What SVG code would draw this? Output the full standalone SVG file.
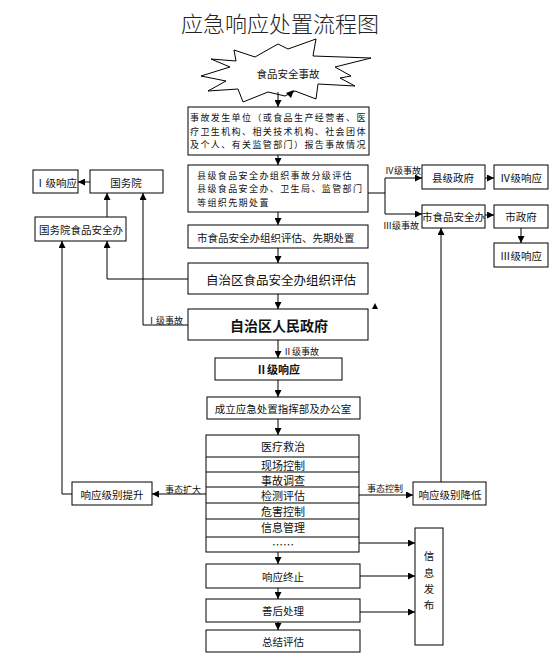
<svg xmlns="http://www.w3.org/2000/svg" width="560" height="663" viewBox="0 0 560 663">
<style>
.b{fill:#fff;stroke:#000;stroke-width:1}
.t{font-family:"Noto Sans CJK SC","Noto Sans",sans-serif;fill:#111;dominant-baseline:central}
.c{text-anchor:middle}
.s9{font-size:9px}
.sm{font-size:9px;letter-spacing:1.4px}
.s10{font-size:10.5px}
.s11{font-size:11px}
.s12{font-size:12.5px}
.ln{fill:none;stroke:#000;stroke-width:1}
</style>
<defs>
<marker id="ah" viewBox="0 0 8 8" refX="8" refY="4" markerWidth="7" markerHeight="7" markerUnits="userSpaceOnUse" orient="auto">
<path d="M0,0 L8,4 L0,8 Z" fill="#000"/>
</marker>
</defs>
<rect width="560" height="663" fill="#fff"/>
<text id="title" class="t c" x="280" y="22" style="font-size:22px;font-weight:300;fill:#222">应急响应处置流程图</text>

<g id="star">
<path class="b" d="M234,50 L255,57 L278,44 L288,49 L316,39 L313,56 L371,58 L335,67 L351,76 L340,78 L355,86 L318,84 L316,99 L295,91 L285,96 L268,92 L243,102 L238,89 L208,91 L226,81 L201,76 L230,67 L211,59 L236,61 Z"/>
<text class="t c s10" x="288" y="73">食品安全事故</text>
</g>

<g id="box1">
<rect class="b" x="188" y="107" width="181" height="48"/>
<text class="t sm" x="190" y="117.5">事故发生单位（或食品生产经营者、医</text>
<text class="t sm" x="190" y="131">疗卫生机构、相关技术机构、社会团体</text>
<text class="t sm" x="190" y="144.5">及个人、有关监管部门）报告事故情况</text>
</g>

<g id="box2">
<rect class="b" x="188" y="165" width="180" height="47"/>
<text class="t sm" x="197" y="175">县级食品安全办组织事故分级评估</text>
<text class="t sm" x="197" y="188.5">县级食品安全办、卫生局、监管部门</text>
<text class="t sm" x="197" y="202">等组织先期处置</text>
</g>

<g id="box3">
<rect class="b" x="188" y="225" width="180" height="23"/>
<text class="t s10" x="197" y="237">市食品安全办组织评估、先期处置</text>
</g>

<g id="box4">
<rect class="b" x="188" y="263" width="180" height="31"/>
<text class="t c s12" x="281" y="279">自治区食品安全办组织评估</text>
</g>

<g id="box5">
<rect class="b" x="188" y="309" width="180" height="31"/>
<text class="t c" x="279" y="325" style="font-size:14px;font-weight:bold">自治区人民政府</text>
</g>

<g id="lv2">
<rect class="b" x="215" y="358" width="127" height="22"/>
<text class="t c s11" x="278" y="369" style="font-weight:bold">Ⅱ级响应</text>
</g>

<g id="hq">
<rect class="b" x="207" y="397" width="153" height="22"/>
<text class="t c s10" x="283" y="408">成立应急处置指挥部及办公室</text>
</g>

<g id="tasks">
<rect class="b" x="206" y="435" width="153" height="117"/>
<path class="ln" d="M206,457 H359 M206,472 H359 M206,487 H359 M206,503 H359 M206,519 H359 M206,537 H359"/>
<text class="t c s11" x="283" y="446">医疗救治</text>
<text class="t c s11" x="283" y="464.5">现场控制</text>
<text class="t c s11" x="283" y="479.5">事故调查</text>
<text class="t c s11" x="283" y="495">检测评估</text>
<text class="t c s11" x="283" y="511">危害控制</text>
<text class="t c s11" x="283" y="527">信息管理</text>
<text class="t c s11" x="283" y="544">……</text>
</g>

<g id="end">
<rect class="b" x="206" y="564" width="154" height="24"/>
<text class="t c s10" x="283" y="576">响应终止</text>
</g>
<g id="after">
<rect class="b" x="206" y="599" width="154" height="23"/>
<text class="t c s10" x="283" y="610.5">善后处理</text>
</g>
<g id="summary">
<rect class="b" x="206" y="630" width="154" height="22"/>
<text class="t c s10" x="283" y="641">总结评估</text>
</g>

<g id="info">
<rect class="b" x="415" y="528" width="28" height="117"/>
<text class="t c s10" x="429" y="555">信</text>
<text class="t c s10" x="429" y="572">息</text>
<text class="t c s10" x="429" y="588">发</text>
<text class="t c s10" x="429" y="604">布</text>
</g>

<g id="lv1">
<rect class="b" x="33" y="170" width="45" height="23"/>
<text class="t c s10" x="56" y="182">Ⅰ级响应</text>
</g>
<g id="state">
<rect class="b" x="90" y="170" width="73" height="23"/>
<text class="t c s10" x="126" y="182">国务院</text>
</g>
<g id="stateoffice">
<rect class="b" x="35" y="217" width="91" height="24"/>
<text class="t c s10" x="81" y="229">国务院食品安全办</text>
</g>
<g id="raise">
<rect class="b" x="72" y="482" width="80" height="23"/>
<text class="t c s10" x="112" y="494">响应级别提升</text>
</g>

<g id="county">
<rect class="b" x="422" y="165" width="63" height="24"/>
<text class="t c s10" x="453" y="177">县级政府</text>
</g>
<g id="lv4">
<rect class="b" x="494" y="165" width="54" height="24"/>
<text class="t c s10" x="521" y="177">Ⅳ级响应</text>
</g>
<g id="cityoffice">
<rect class="b" x="422" y="205" width="63" height="23"/>
<text class="t c s10" x="453.5" y="216">市食品安全办</text>
</g>
<g id="city">
<rect class="b" x="494" y="205" width="54" height="23"/>
<text class="t c s10" x="521" y="216">市政府</text>
</g>
<g id="lv3">
<rect class="b" x="494" y="243" width="54" height="24"/>
<text class="t c s10" x="521" y="255">Ⅲ级响应</text>
</g>
<g id="lower">
<rect class="b" x="413" y="482" width="73" height="23"/>
<text class="t c s10" x="450" y="494">响应级别降低</text>
</g>

<g id="connectors">
<path class="ln" marker-end="url(#ah)" d="M278,92 V107"/>
<path class="ln" marker-end="url(#ah)" d="M278,155 V165"/>
<path class="ln" marker-end="url(#ah)" d="M278,212 V225"/>
<path class="ln" marker-end="url(#ah)" d="M278,248 V263"/>
<path class="ln" marker-end="url(#ah)" d="M278,294 V309"/>
<path class="ln" marker-end="url(#ah)" d="M278,340 V358"/>
<path class="ln" marker-end="url(#ah)" d="M278,380 V397"/>
<path class="ln" marker-end="url(#ah)" d="M278,419 V435"/>
<path class="ln" marker-end="url(#ah)" d="M278,552 V564"/>
<path class="ln" marker-end="url(#ah)" d="M278,588 V599"/>
<path class="ln" marker-end="url(#ah)" d="M278,622 V630"/>
<path class="ln" d="M368,193 H385 M385,178 V214"/>
<path class="ln" marker-end="url(#ah)" d="M385,178 H422"/>
<path class="ln" marker-end="url(#ah)" d="M385,214 H422"/>
<path class="ln" marker-end="url(#ah)" d="M485,178 H494"/>
<path class="ln" marker-end="url(#ah)" d="M485,215 H494"/>
<path class="ln" marker-end="url(#ah)" d="M521,228 V243"/>
<path class="ln" marker-end="url(#ah)" d="M441,482 V228"/>
<path class="ln" marker-end="url(#ah)" d="M359,495 H413"/>
<path class="ln" marker-end="url(#ah)" d="M206,494 H152"/>
<path class="ln" marker-end="url(#ah)" d="M72,494 H62 V241"/>
<path class="ln" marker-end="url(#ah)" d="M188,279 H107 V241"/>
<path class="ln" marker-end="url(#ah)" d="M107,217 V193"/>
<path class="ln" marker-end="url(#ah)" d="M188,325 H143 V193"/>
<path class="ln" marker-end="url(#ah)" d="M90,182 H78"/>
<path class="ln" marker-end="url(#ah)" d="M359,543 H415"/>
<path class="ln" marker-end="url(#ah)" d="M360,576 H415"/>
<path class="ln" marker-end="url(#ah)" d="M360,612 H415"/>
<path d="M286,93 L294,90 L291,98 Z" fill="#000"/>
<path d="M375,303 L378,309 L372,309 Z" fill="#000"/>
<text class="t s9" x="385" y="170">Ⅳ级事故</text>
<text class="t s9" x="383" y="225">Ⅲ级事故</text>
<text class="t s9" x="147" y="320">Ⅰ级事故</text>
<text class="t s9" x="283" y="351">Ⅱ级事故</text>
<text class="t s9" x="165" y="489">事态扩大</text>
<text class="t s9" x="367" y="488">事态控制</text>
</g>
</svg>
